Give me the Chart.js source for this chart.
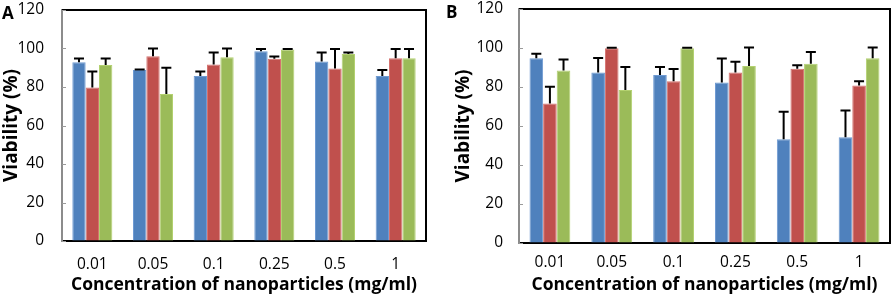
<!DOCTYPE html>
<html><head><meta charset="utf-8">
<script src="https://cdn.jsdelivr.net/npm/chart.js@4"></script>
<style>
body{margin:0;width:893px;height:296px;position:relative;overflow:hidden;background:#fff}
#wa{position:absolute;left:0;top:0;width:440px;height:296px}
#wb{position:absolute;left:440px;top:0;width:453px;height:296px}
.lab{position:absolute;font:bold 17px "Open Sans";color:#000;line-height:17px}
</style></head>
<body>
<div id="wa"><canvas id="ca"></canvas></div>
<div id="wb"><canvas id="cb"></canvas></div>
<div class="lab" style="left:2px;top:4px">A</div>
<div class="lab" style="left:446px;top:3px">B</div>
<script>
const categories = ['0.01','0.05','0.1','0.25','0.5','1'];
const yTicks = [0,20,40,60,80,100,120];
const xTitle = 'Concentration of nanoparticles (mg/ml)';
const yTitle = 'Viability (%)';

// Panel A
const aBlue  = [92.9, 88.8, 85.7, 98.6, 93.3, 85.7];
const aRed   = [79.8, 96.0, 91.7, 94.7, 89.6, 95.0];
const aGreen = [91.4, 76.4, 95.5, 99.5, 97.2, 95.0];
const aBlueErr  = [1.9, 0.3, 2.4, 1.2, 4.6, 3.1];
const aRedErr   = [8.3, 4.0, 6.2, 1.2, 10.2, 4.8];
const aGreenErr = [3.4, 13.6, 4.5, 0.3, 0.7, 4.8];

// Panel B
const bBlue  = [94.8, 87.4, 86.1, 82.3, 53.2, 54.2];
const bRed   = [71.6, 99.9, 83.0, 87.4, 89.3, 80.8];
const bGreen = [88.4, 78.4, 99.9, 90.8, 91.9, 94.8];
const bBlueErr  = [2.3, 7.5, 4.2, 12.3, 14.1, 13.8];
const bRedErr   = [8.5, 0.2, 6.2, 5.6, 1.9, 2.2];
const bGreenErr = [5.7, 11.8, 0.2, 9.4, 6.1, 5.4];

const errorBars = {
  id: 'errorBars',
  afterDatasetsDraw(chart) {
    const ctx = chart.ctx, ys = chart.scales.y;
    chart.data.datasets.forEach((ds, i) => {
      const meta = chart.getDatasetMeta(i);
      meta.data.forEach((el, j) => {
        const top = ys.getPixelForValue(ds.data[j] + ds.err[j]);
        ctx.save();
        ctx.strokeStyle = '#000';
        ctx.lineWidth = 2;
        ctx.beginPath();
        ctx.moveTo(el.x, el.y);
        ctx.lineTo(el.x, top);
        ctx.moveTo(el.x - 5, top);
        ctx.lineTo(el.x + 5, top);
        ctx.stroke();
        ctx.restore();
      });
    });
  }
};
const frame = {
  id: 'frame',
  afterDraw(chart) {
    const ctx = chart.ctx, a = chart.chartArea, ys = chart.scales.y;
    ctx.save();
    ctx.strokeStyle = '#000';
    ctx.lineWidth = 2;
    ctx.beginPath();
    ctx.moveTo(a.left, a.top);
    ctx.lineTo(a.right, a.top);
    ctx.lineTo(a.right, a.bottom);
    ctx.stroke();
    ctx.strokeStyle = '#9a9a9a';
    ctx.lineWidth = 1;
    ys.ticks.forEach(t => {
      const y = Math.round(ys.getPixelForValue(t.value)) + 0.5;
      ctx.beginPath();
      ctx.moveTo(a.left, y);
      ctx.lineTo(a.left + 4, y);
      ctx.stroke();
    });
    ctx.restore();
  }
};

function makePanel(id, blue, red, green, eB, eR, eG, g) {
  return new Chart(document.getElementById(id), {
    type: 'bar',
    data: {
      labels: categories,
      datasets: [
        {data: blue, err: eB, backgroundColor: '#4F81BD', borderColor: '#6E9AD2', borderWidth: 1},
        {data: red, err: eR, backgroundColor: '#C0504D', borderColor: '#D57370', borderWidth: 1},
        {data: green, err: eG, backgroundColor: '#9BBB59', borderColor: '#B3D170', borderWidth: 1}
      ]
    },
    options: {
      responsive: true, maintainAspectRatio: false, animation: false,
      layout: {padding: {left: 0, right: g.right, top: g.top, bottom: 0}},
      plugins: {legend: {display: false}, tooltip: {enabled: false}},
      datasets: {bar: {categoryPercentage: 0.66, barPercentage: 1.0}},
      scales: {
        x: {
          grid: {display: true, drawOnChartArea: false, drawTicks: false},
          border: {color: '#000', width: 2},
          ticks: {color: '#000', font: {family: 'Open Sans', size: 15.5}, padding: g.xPad, maxRotation: 0},
          title: {display: true, text: xTitle, color: '#000', font: {family: 'Open Sans', size: 17.5, weight: 'bold'}, padding: {top: 0, bottom: g.xtPad}},
          afterFit(s) { s.height = g.xH; s.paddingLeft = 0; s.paddingRight = 0; }
        },
        y: {
          min: 0, max: 120,
          afterBuildTicks(s) { s.ticks = yTicks.map(v => ({value: v})); },
          grid: {display: true, drawOnChartArea: false, drawTicks: false},
          border: {color: '#8c8c8c', width: 2},
          ticks: {color: '#000', font: {family: 'Open Sans', size: 15.5}, padding: g.yPad},
          title: {display: true, text: yTitle, color: '#000', font: {family: 'Open Sans', size: 19, weight: 'bold'}, padding: {top: g.ytPad, bottom: 0}},
          afterFit(s) { s.width = g.yW; s.paddingTop = 0; s.paddingBottom = 0; }
        }
      }
    },
    plugins: [errorBars, frame]
  });
}

makePanel('ca', aBlue, aRed, aGreen, aBlueErr, aRedErr, aGreenErr,
  {right: 14, top: 10, xH: 55, yW: 62, xPad: 14, xtPad: 0, yPad: 18, ytPad: 0});
makePanel('cb', bBlue, bRed, bGreen, bBlueErr, bRedErr, bGreenErr,
  {right: 3, top: 9, xH: 53, yW: 79, xPad: 10, xtPad: 0, yPad: 16, ytPad: 12});
</script>
</body></html>
